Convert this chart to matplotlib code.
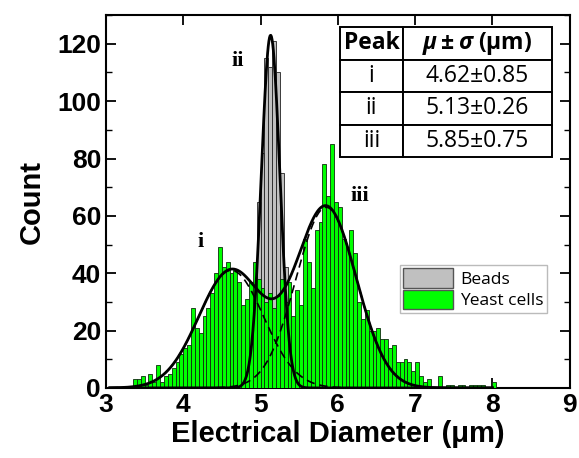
import matplotlib
matplotlib.use('Agg')
import matplotlib.pyplot as plt
import numpy as np
from matplotlib.patches import Patch

plt.rcParams['mathtext.fontset'] = 'custom'
plt.rcParams['mathtext.it'] = 'Open Sans:bold:italic'
plt.rcParams['mathtext.rm'] = 'Open Sans:bold'

# Histogram bins (um)
bin_width = 0.05

# Yeast cells, counts per bin starting at 3.35 um
yeast_start = 3.35
yeast_counts = [3, 3, 4, 1, 5, 2, 8, 2, 4, 5,
                7, 9, 12, 14, 15, 28, 21, 19, 25, 28,
                33, 40, 49, 42, 44, 40, 41, 37, 29, 31,
                37, 44, 38, 35, 30, 33, 28, 32, 38, 30,
                37, 25, 34, 29, 52, 44, 35, 55, 58, 78,
                67, 85, 65, 63, 52, 49, 55, 47, 30, 24,
                27, 20, 20, 21, 17, 17, 14, 15, 9, 9,
                10, 9, 6, 9, 4, 2, 3, 0, 0, 4,
                0, 1, 1, 0, 1, 1, 0, 1, 1, 1,
                1, 0, 0, 2]

# Beads, counts per bin starting at 4.85 um
beads_start = 4.85
beads_counts = [3, 20, 65, 82, 115, 112, 121, 110, 75, 42, 10, 2]

# Gaussian fit parameters
peak_names = ['i', 'ii', 'iii']
peak_mu = [4.62, 5.13, 5.85]
peak_amp = [41, 123, 63]
peak_width = [0.42, 0.12, 0.39]

# Table values
table_mu = ['4.62', '5.13', '5.85']
table_sigma = ['0.85', '0.26', '0.75']

yeast_x = yeast_start + bin_width * (np.arange(len(yeast_counts)) + 0.5)
beads_x = beads_start + bin_width * (np.arange(len(beads_counts)) + 0.5)

fig = plt.figure(figsize=(5.79, 4.58), dpi=100)
ax = fig.add_axes([0.183, 0.153, 0.801, 0.814])

ax.bar(beads_x, beads_counts, width=bin_width, color='#c0c0c0',
       edgecolor='#222222', linewidth=0.6, zorder=2)
ax.bar(yeast_x, yeast_counts, width=bin_width, color='#00ff00',
       edgecolor='#0f2a0f', linewidth=0.6, zorder=3)

def gauss(x, a, m, s):
    return a * np.exp(-(x - m) ** 2 / (2 * s ** 2))

xs = np.linspace(3.05, 8.0, 600)
g = [gauss(xs, a, m, s) for a, m, s in zip(peak_amp, peak_mu, peak_width)]
ax.plot(xs, g[0], 'k--', lw=1.2, dashes=(5, 3), zorder=4)
ax.plot(xs, g[2], 'k--', lw=1.2, dashes=(5, 3), zorder=4)
ax.plot(xs, g[0] + g[2], 'k-', lw=2, zorder=5)
ax.plot(xs, g[1], 'k-', lw=2, zorder=5)

label_pos = [(4.22, 51), (4.70, 114), (6.28, 67)]
for name, (lx, ly) in zip(peak_names, label_pos):
    ax.text(lx, ly, name, family='Liberation Serif', fontweight='bold',
            fontsize=16, ha='center', va='center', zorder=6)

ax.set_xlim(3, 9)
ax.set_ylim(0, 130)
ax.set_xticks(range(3, 10))
ax.set_yticks(range(0, 121, 20))
ax.set_yticks(range(0, 131, 10), minor=True)
ax.tick_params(axis='both', which='both', direction='in', top=True, right=True)
ax.tick_params(which='major', length=7, width=1.3)
ax.tick_params(which='minor', length=4, width=1.0)
ax.tick_params(axis='x', which='minor', top=False, bottom=False)
for lab in ax.get_xticklabels() + ax.get_yticklabels():
    lab.set_family('Liberation Sans')
    lab.set_fontweight('bold')
    lab.set_fontsize(19)
for sp in ax.spines.values():
    sp.set_linewidth(1.5)

ax.set_xlabel('Electrical Diameter (\u03bcm)', family='Liberation Sans',
              fontweight='bold', fontsize=21, labelpad=2)
ax.set_ylabel('Count', family='Liberation Sans', fontweight='bold',
              fontsize=21, labelpad=8)

# Legend
handles = [Patch(facecolor='#c0c0c0', edgecolor='#555555', label='Beads'),
           Patch(facecolor='#00ff00', edgecolor='#555555', label='Yeast cells')]
leg = ax.legend(handles=handles, loc='upper left', bbox_to_anchor=(0.633, 0.330),
                prop={'family': 'Open Sans', 'size': 12.5}, frameon=True,
                fancybox=False, edgecolor='#aaaaaa', handlelength=2.9,
                handleheight=1.35, borderpad=0.2, labelspacing=0.1,
                handletextpad=0.4, borderaxespad=0)
leg.get_frame().set_linewidth(1.0)

# Table of fit results
cells = [['Peak', '$\\mu\\pm\\sigma$ (\u03bcm)']]
for n, m, s in zip(peak_names, table_mu, table_sigma):
    cells.append([n, m + '\u00b1' + s])
tab = ax.table(cellText=cells, cellLoc='center', colWidths=[0.137, 0.32],
               bbox=[0.504, 0.619, 0.457, 0.349])
tab.auto_set_font_size(False)
for (r, c), cell in tab.get_celld().items():
    cell.set_linewidth(1.4)
    cell.set_facecolor('white')
    t = cell.get_text()
    t.set_family('Open Sans')
    t.set_fontsize(16.5)
    if r == 0:
        t.set_fontweight('bold')

fig.savefig('out.png', dpi=100)
